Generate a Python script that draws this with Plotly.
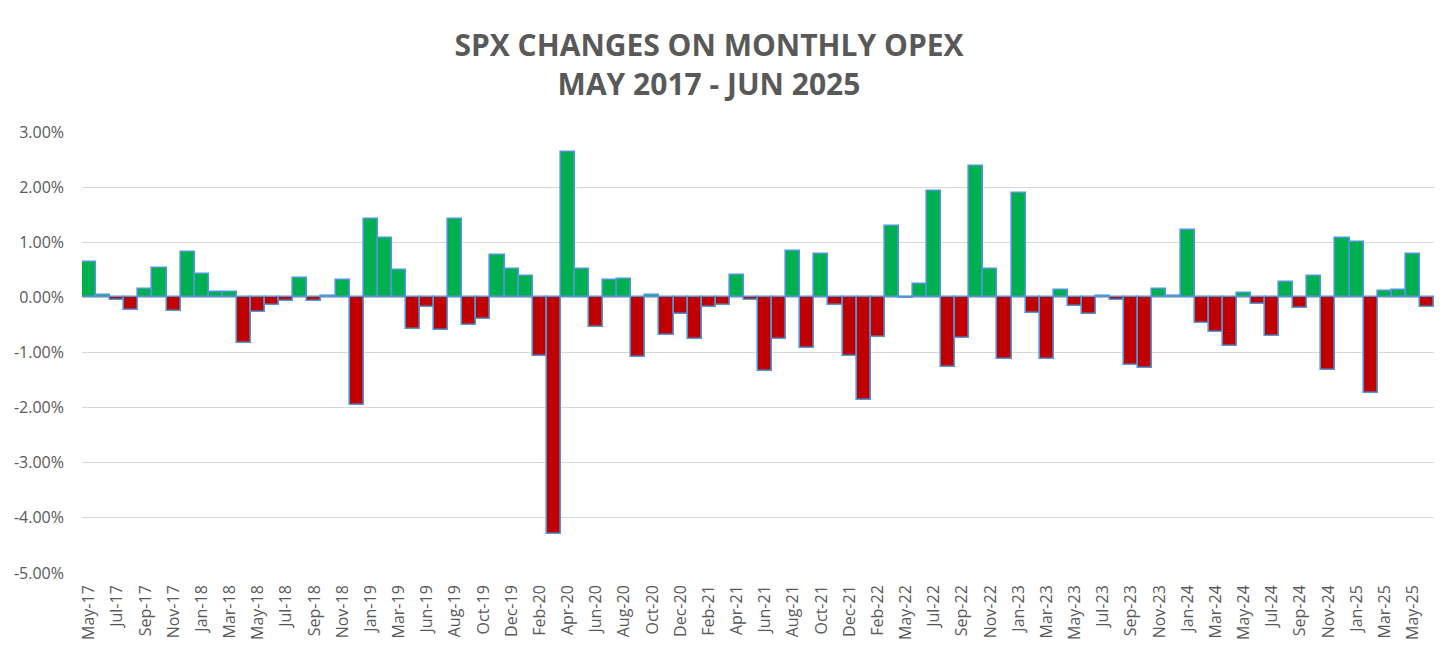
import plotly.graph_objects as go

# Monthly opex months (Apr-19 and Apr-22 are absent in the source)
months = [
    "May-17", "Jun-17", "Jul-17", "Aug-17", "Sep-17", "Oct-17", "Nov-17", "Dec-17",
    "Jan-18", "Feb-18", "Mar-18", "Apr-18", "May-18", "Jun-18", "Jul-18", "Aug-18",
    "Sep-18", "Oct-18", "Nov-18", "Dec-18",
    "Jan-19", "Feb-19", "Mar-19", "May-19", "Jun-19", "Jul-19", "Aug-19", "Sep-19",
    "Oct-19", "Nov-19", "Dec-19",
    "Jan-20", "Feb-20", "Mar-20", "Apr-20", "May-20", "Jun-20", "Jul-20", "Aug-20",
    "Sep-20", "Oct-20", "Nov-20", "Dec-20",
    "Jan-21", "Feb-21", "Mar-21", "Apr-21", "May-21", "Jun-21", "Jul-21", "Aug-21",
    "Sep-21", "Oct-21", "Nov-21", "Dec-21",
    "Jan-22", "Feb-22", "Mar-22", "May-22", "Jun-22", "Jul-22", "Aug-22", "Sep-22",
    "Oct-22", "Nov-22", "Dec-22",
    "Jan-23", "Feb-23", "Mar-23", "Apr-23", "May-23", "Jun-23", "Jul-23", "Aug-23",
    "Sep-23", "Oct-23", "Nov-23", "Dec-23",
    "Jan-24", "Feb-24", "Mar-24", "Apr-24", "May-24", "Jun-24", "Jul-24", "Aug-24",
    "Sep-24", "Oct-24", "Nov-24", "Dec-24",
    "Jan-25", "Feb-25", "Mar-25", "Apr-25", "May-25", "Jun-25",
]

# SPX % change on monthly opex day
changes = [
    0.65, 0.04, -0.05, -0.22, 0.16, 0.53, -0.25, 0.83,
    0.42, 0.09, 0.09, -0.83, -0.27, -0.13, -0.07, 0.36,
    -0.07, 0.02, 0.32, -1.95,
    1.43, 1.07, 0.50, -0.57, -0.18, -0.59, 1.43, -0.50,
    -0.40, 0.76, 0.52,
    0.38, -1.06, -4.30, 2.63, 0.52, -0.53, 0.31, 0.33,
    -1.08, 0.04, -0.68, -0.30,
    -0.76, -0.18, -0.13, 0.40, -0.05, -1.33, -0.76, 0.85,
    -0.92, 0.78, -0.13, -1.06,
    -1.87, -0.71, 1.29, -0.02, 0.25, 1.93, -1.26, -0.74,
    2.38, 0.51, -1.11,
    1.90, -0.28, -1.11, 0.13, -0.16, -0.30, 0.02, -0.04,
    -1.22, -1.29, 0.15, 0.02,
    1.23, -0.47, -0.62, -0.88, 0.08, -0.12, -0.70, 0.27,
    -0.19, 0.38, -1.31, 1.07,
    1.00, -1.73, 0.11, 0.14, 0.79, -0.18,
]

x_tick_labels = months[::2]
y_tick_values = [3, 2, 1, 0, -1, -2, -3, -4, -5]
y_tick_labels = ["3.00%", "2.00%", "1.00%", "0.00%", "-1.00%", "-2.00%",
                 "-3.00%", "-4.00%", "-5.00%"]

GREEN = "#00B050"
RED = "#C00000"
bar_colors = [GREEN if v >= 0 else RED for v in changes]

fig = go.Figure(
    go.Bar(
        x=months,
        y=changes,
        marker=dict(color=bar_colors, line=dict(color="#4F96DA", width=1.6)),
        hovertemplate="%{x}: %{y:.2f}%<extra></extra>",
    )
)

fig.update_layout(
    width=1456,
    height=657,
    margin=dict(l=74, r=30, t=124, b=92),
    paper_bgcolor="white",
    plot_bgcolor="white",
    bargap=0,
    showlegend=False,
    font=dict(family="Open Sans", color="#595959"),
    title=dict(
        text="SPX CHANGES ON MONTHLY OPEX<br>MAY 2017 - JUN 2025",
        x=(709 - 8) / 1456,
        xanchor="center",
        xref="container",
        yref="container",
        y=1 - 48 / 657,
        yanchor="middle",
        font=dict(family="Open Sans", size=30, color="#595959", weight="bold"),
    ),
    xaxis=dict(
        type="category",
        tickmode="array",
        tickvals=x_tick_labels,
        ticktext=x_tick_labels,
        tickangle=-90,
        tickfont=dict(size=16, color="#595959"),
        showgrid=False,
        showline=False,
        ticks="",
        ticklabelstandoff=8,
        automargin=False,
    ),
    yaxis=dict(
        range=[-5, 3],
        tickmode="array",
        tickvals=y_tick_values,
        ticktext=y_tick_labels,
        tickfont=dict(size=16, color="#595959"),
        showgrid=True,
        gridcolor="#D9D9D9",
        gridwidth=1,
        zeroline=True,
        zerolinecolor="#BFBFBF",
        zerolinewidth=1.5,
        showline=False,
        ticks="",
        ticklabelstandoff=17,
        automargin=False,
    ),
)

fig.write_html("out.html")
